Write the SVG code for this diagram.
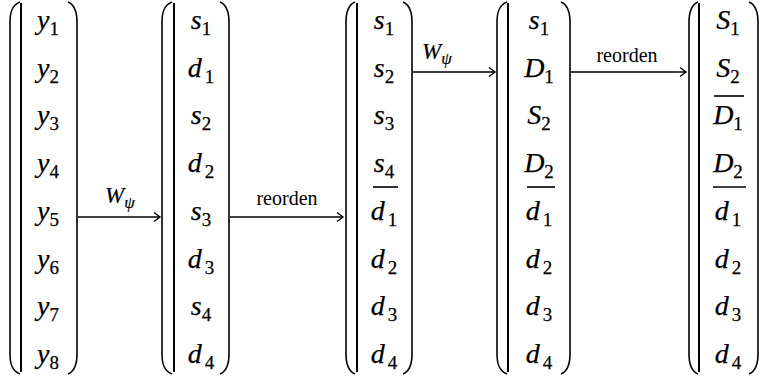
<svg xmlns="http://www.w3.org/2000/svg" width="761" height="376" viewBox="0 0 761 376">
<style>
.p{fill:none;stroke:#000;stroke-width:1.6}
.bar{stroke:#000;stroke-width:2}
.u{stroke:#000;stroke-width:1.6}
.t{font-family:"Liberation Serif","Times New Roman",serif;font-style:italic;font-size:28px;fill:#000;stroke:#000;stroke-width:0.25;text-anchor:middle}
.s{font-style:normal;font-size:19px}
.g{font-style:italic;font-size:17px}
.w{font-family:"Liberation Serif","Times New Roman",serif;font-style:italic;font-size:23px;fill:#000;stroke:#000;stroke-width:0.2}
.lbl{font-family:"Liberation Serif","Times New Roman",serif;font-size:20px;fill:#000;text-anchor:middle}
.c{stroke:#000;stroke-width:1.4;fill:none}
</style>
<defs>
<marker id="ah" markerWidth="10" markerHeight="12" refX="7" refY="6" orient="auto" markerUnits="userSpaceOnUse">
<polyline points="1,1.5 7,6 1,10.5" fill="none" stroke="#000" stroke-width="1.4"/>
</marker>
</defs>
<g id="matrix1">
<path class="p" d="M20,2 C12,5 10,12 10,22 L10,354 C10,364 12,371 20,374"/>
<line class="bar" x1="21" y1="3" x2="21" y2="372"/>
<path class="p" d="M68,2 C75,5 77,12 77,22 L77,354 C77,364 75,371 68,374"/>
<text class="t" x="48" y="29">y<tspan class="s" dy="6">1</tspan></text>
<text class="t" x="48" y="77">y<tspan class="s" dy="6">2</tspan></text>
<text class="t" x="48" y="124">y<tspan class="s" dy="6">3</tspan></text>
<text class="t" x="48" y="172">y<tspan class="s" dy="6">4</tspan></text>
<text class="t" x="48" y="220">y<tspan class="s" dy="6">5</tspan></text>
<text class="t" x="48" y="268">y<tspan class="s" dy="6">6</tspan></text>
<text class="t" x="48" y="315">y<tspan class="s" dy="6">7</tspan></text>
<text class="t" x="48" y="363">y<tspan class="s" dy="6">8</tspan></text>
</g>
<g id="matrix2">
<path class="p" d="M172,2 C164,5 162,12 162,22 L162,354 C162,364 164,371 172,374"/>
<line class="bar" x1="174" y1="3" x2="174" y2="372"/>
<path class="p" d="M220,2 C227,5 229,12 229,22 L229,354 C229,364 227,371 220,374"/>
<text class="t" x="201" y="29">s<tspan class="s" dy="6">1</tspan></text>
<text class="t" x="201" y="77">d<tspan class="s" dx="3" dy="6">1</tspan></text>
<text class="t" x="201" y="124">s<tspan class="s" dy="6">2</tspan></text>
<text class="t" x="201" y="172">d<tspan class="s" dx="3" dy="6">2</tspan></text>
<text class="t" x="201" y="220">s<tspan class="s" dy="6">3</tspan></text>
<text class="t" x="201" y="268">d<tspan class="s" dx="3" dy="6">3</tspan></text>
<text class="t" x="201" y="315">s<tspan class="s" dy="6">4</tspan></text>
<text class="t" x="201" y="363">d<tspan class="s" dx="3" dy="6">4</tspan></text>
</g>
<g id="matrix3">
<path class="p" d="M355,2 C348,5 346,12 346,22 L346,354 C346,364 348,371 355,374"/>
<line class="bar" x1="357" y1="3" x2="357" y2="372"/>
<path class="p" d="M403,2 C410,5 412,12 412,22 L412,354 C412,364 410,371 403,374"/>
<text class="t" x="384" y="29">s<tspan class="s" dy="6">1</tspan></text>
<text class="t" x="384" y="77">s<tspan class="s" dy="6">2</tspan></text>
<text class="t" x="384" y="124">s<tspan class="s" dy="6">3</tspan></text>
<text class="t" x="384" y="172">s<tspan class="s" dy="6">4</tspan></text>
<line class="u" x1="373" y1="187" x2="398" y2="187"/>
<text class="t" x="384" y="220">d<tspan class="s" dx="3" dy="6">1</tspan></text>
<text class="t" x="384" y="268">d<tspan class="s" dx="3" dy="6">2</tspan></text>
<text class="t" x="384" y="315">d<tspan class="s" dx="3" dy="6">3</tspan></text>
<text class="t" x="384" y="363">d<tspan class="s" dx="3" dy="6">4</tspan></text>
</g>
<g id="matrix4">
<path class="p" d="M507,2 C499,5 497,12 497,22 L497,354 C497,364 499,371 507,374"/>
<line class="bar" x1="508" y1="3" x2="508" y2="372"/>
<path class="p" d="M561,2 C568,5 570,12 570,22 L570,354 C570,364 568,371 561,374"/>
<text class="t" x="539" y="29">s<tspan class="s" dy="6">1</tspan></text>
<text class="t" x="539" y="77">D<tspan class="s" dy="6">1</tspan></text>
<text class="t" x="539" y="124">S<tspan class="s" dy="6">2</tspan></text>
<text class="t" x="539" y="172">D<tspan class="s" dy="6">2</tspan></text>
<line class="u" x1="527" y1="187" x2="555" y2="187"/>
<text class="t" x="539" y="220">d<tspan class="s" dx="3" dy="6">1</tspan></text>
<text class="t" x="539" y="268">d<tspan class="s" dx="3" dy="6">2</tspan></text>
<text class="t" x="539" y="315">d<tspan class="s" dx="3" dy="6">3</tspan></text>
<text class="t" x="539" y="363">d<tspan class="s" dx="3" dy="6">4</tspan></text>
</g>
<g id="matrix5">
<path class="p" d="M698,2 C691,5 689,12 689,22 L689,354 C689,364 691,371 698,374"/>
<line class="bar" x1="699" y1="3" x2="699" y2="372"/>
<path class="p" d="M749,2 C756,5 758,12 758,22 L758,354 C758,364 756,371 749,374"/>
<text class="t" x="728" y="29">S<tspan class="s" dy="6">1</tspan></text>
<text class="t" x="728" y="77">S<tspan class="s" dy="6">2</tspan></text>
<line class="u" x1="714" y1="96" x2="744" y2="96"/>
<text class="t" x="728" y="124">D<tspan class="s" dy="6">1</tspan></text>
<text class="t" x="728" y="172">D<tspan class="s" dy="6">2</tspan></text>
<line class="u" x1="713" y1="187" x2="746" y2="187"/>
<text class="t" x="728" y="220">d<tspan class="s" dx="3" dy="6">1</tspan></text>
<text class="t" x="728" y="268">d<tspan class="s" dx="3" dy="6">2</tspan></text>
<text class="t" x="728" y="315">d<tspan class="s" dx="3" dy="6">3</tspan></text>
<text class="t" x="728" y="363">d<tspan class="s" dx="3" dy="6">4</tspan></text>
</g>
<g id="connectors">
<line class="c" x1="78" y1="217" x2="160" y2="217" marker-end="url(#ah)"/>
<text class="w" x="105" y="203">W<tspan class="g" dy="5">ψ</tspan></text>
<line class="c" x1="230" y1="217" x2="343" y2="217" marker-end="url(#ah)"/>
<text class="lbl" x="287" y="205">reorden</text>
<line class="c" x1="413" y1="72" x2="495" y2="72" marker-end="url(#ah)"/>
<text class="w" x="422" y="59">W<tspan class="g" dy="5">ψ</tspan></text>
<line class="c" x1="571" y1="72" x2="686" y2="72" marker-end="url(#ah)"/>
<text class="lbl" x="627" y="62">reorden</text>
</g>
</svg>
